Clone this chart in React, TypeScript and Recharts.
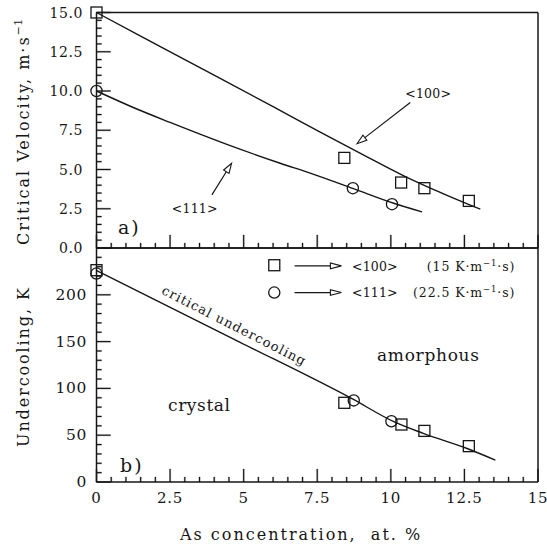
import React from 'react';
import {
  ComposedChart,
  Line,
  Scatter,
  XAxis,
  YAxis,
  ReferenceLine,
  ReferenceDot,
} from 'recharts';

// ---------- data ----------
const xMinorTicks = [0, 0.5, 1, 1.5, 2, 2.5, 3, 3.5, 4, 4.5, 5, 5.5, 6, 6.5, 7, 7.5, 8, 8.5, 9, 9.5, 10, 10.5, 11, 11.5, 12, 12.5, 13, 13.5, 14, 14.5, 15];
const xMajorTicks = [0, 2.5, 5, 7.5, 10, 12.5, 15];
const xTickLabels = ['0', '2.5', '5', '7.5', '10', '12.5', '15'];

const velMinorTicks = [0, 0.5, 1, 1.5, 2, 2.5, 3, 3.5, 4, 4.5, 5, 5.5, 6, 6.5, 7, 7.5, 8, 8.5, 9, 9.5, 10, 10.5, 11, 11.5, 12, 12.5, 13, 13.5, 14, 14.5, 15];
const velMajorTicks = [0, 2.5, 5, 7.5, 10, 12.5, 15];
const velTickLabels = ['0.0', '2.5', '5.0', '7.5', '10.0', '12.5', '15.0'];

const ucMinorTicks = [0, 10, 20, 30, 40, 50, 60, 70, 80, 90, 100, 110, 120, 130, 140, 150, 160, 170, 180, 190, 200, 210, 220, 230, 240];
const ucMajorTicks = [0, 50, 100, 150, 200];
const ucTickLabels = ['0', '50', '100', '150', '200'];

// panel a) critical velocity
const vel100Curve = [
  { x: 0, y: 15.0 }, { x: 3, y: 12.0 }, { x: 6, y: 9.0 }, { x: 7.6, y: 7.38 },
  { x: 9, y: 6.0 }, { x: 10.44, y: 4.6 }, { x: 11.46, y: 3.72 }, { x: 13.04, y: 2.47 },
];
const vel111Curve = [
  { x: 0, y: 10.0 }, { x: 1.25, y: 8.95 }, { x: 2.5, y: 8.0 }, { x: 4.43, y: 6.6 },
  { x: 6.24, y: 5.4 }, { x: 7.26, y: 4.77 }, { x: 8.73, y: 3.78 }, { x: 10.1, y: 2.85 }, { x: 11.06, y: 2.3 },
];
const vel100Points = [
  { x: 0, y: 15.0 }, { x: 8.42, y: 5.74 }, { x: 10.35, y: 4.17 }, { x: 11.14, y: 3.81 }, { x: 12.65, y: 3.0 },
];
const vel111Points = [
  { x: 0, y: 10.0 }, { x: 8.71, y: 3.81 }, { x: 10.04, y: 2.79 },
];

// panel b) undercooling
const ucCurve = [
  { x: 0, y: 226 }, { x: 4.88, y: 149.3 }, { x: 8.68, y: 89 }, { x: 10.1, y: 64.5 },
  { x: 11.1, y: 52 }, { x: 12.59, y: 35.8 }, { x: 13.55, y: 23.4 },
];
const uc100Points = [
  { x: 0, y: 226.3 }, { x: 8.42, y: 84.6 }, { x: 10.36, y: 61.4 }, { x: 11.14, y: 54.6 }, { x: 12.65, y: 38.3 },
];
const uc111Points = [
  { x: 0, y: 222.7 }, { x: 8.74, y: 87.2 }, { x: 10.02, y: 64.9 },
];

// ---------- style ----------
const W = 547;
const H = 546;
const INK = '#161616';
const SERIF = '"DejaVu Serif", serif';

const SquareShape = (p: any) => (
  <rect x={p.cx - 5.5} y={p.cy - 5.5} width={11} height={11} fill="none" stroke={INK} strokeWidth={1.3} />
);
const CircleShape = (p: any) => (
  <circle cx={p.cx} cy={p.cy} r={5.6} fill="none" stroke={INK} strokeWidth={1.3} />
);

function makeXLabel(labels: boolean) {
  return (props: any) => {
    const { x, y, payload } = props;
    const i = xMajorTicks.indexOf(payload.value);
    if (!labels || i < 0) return <g />;
    return (
      <text x={x} y={y + 21} textAnchor="middle" fontFamily={SERIF} fontSize={15} letterSpacing={0.8} fill={INK}>
        {xTickLabels[i]}
      </text>
    );
  };
}

function makeYLabel(majors: number[], labels: string[], fontSize: number, gap: number) {
  return (props: any) => {
    const { x, y, payload } = props;
    const i = majors.indexOf(payload.value);
    if (i < 0) return <g />;
    return (
      <text x={x - gap} y={y + 5} textAnchor="end" fontFamily={SERIF} fontSize={fontSize} letterSpacing={0.6} fill={INK}>
        {labels[i]}
      </text>
    );
  };
}

// inward tick marks drawn as thin filled slivers anchored through the scales
function tickShape(dx: number, dy: number) {
  return (p: any) => {
    const x = Number(p.x1);
    const y = Number(p.y1);
    const hw = 0.55;
    const pts = dx === 0
      ? `${x - hw},${y} ${x + hw},${y} ${x + hw},${y + dy} ${x - hw},${y + dy}`
      : `${x},${y - hw} ${x + dx},${y - hw} ${x + dx},${y + hw} ${x},${y + hw}`;
    return <polygon points={pts} fill={INK} stroke={INK} strokeWidth={0.3} />;
  };
}

function xTickMarks(prefix: string, yBase: number, yNext: number) {
  return xMinorTicks.map((v) => {
    const len = xMajorTicks.includes(v) ? 13 : 5;
    return (
      <ReferenceLine
        key={`${prefix}x${v}`}
        xAxisId="x"
        yAxisId="y"
        segment={[{ x: v, y: yBase }, { x: v + 0.3, y: yNext }]}
        ifOverflow="visible"
        shape={tickShape(0, -len)}
      />
    );
  });
}

function yTickMarks(prefix: string, ticks: number[], majors: number[], step: number) {
  return ticks.map((v) => {
    const len = majors.includes(v) ? 14 : 5;
    return (
      <ReferenceLine
        key={`${prefix}y${v}`}
        xAxisId="x"
        yAxisId="y"
        segment={[{ x: 0, y: v }, { x: 1, y: v + step }]}
        ifOverflow="visible"
        shape={tickShape(len, 0)}
      />
    );
  });
}

function makeArrow(len: number, half: number) {
  return (props: any) => {
    const { x1, y1, x2, y2 } = props;
    const ang = Math.atan2(y2 - y1, x2 - x1);
    const bx = x2 - len * Math.cos(ang);
    const by = y2 - len * Math.sin(ang);
    const px = -Math.sin(ang) * half;
    const py = Math.cos(ang) * half;
    return (
      <g>
        <line x1={x1} y1={y1} x2={bx} y2={by} stroke={INK} strokeWidth={1.2} />
        <polygon
          points={`${x2},${y2} ${bx + px},${by + py} ${bx - px},${by - py}`}
          fill="#fff"
          stroke={INK}
          strokeWidth={1.1}
        />
      </g>
    );
  };
}

function textDot(key: string, x: number, y: number, render: (cx: number, cy: number) => React.ReactElement) {
  return (
    <ReferenceDot
      key={key}
      xAxisId="x"
      yAxisId="y"
      x={x}
      y={y}
      r={1}
      shape={(p: any) => render(p.cx, p.cy)}
    />
  );
}

function frame(yMax: number) {
  return [
    <ReferenceLine key="fl" xAxisId="x" yAxisId="y" x={0} stroke={INK} strokeWidth={1.5} />,
    <ReferenceLine key="fr" xAxisId="x" yAxisId="y" x={15} stroke={INK} strokeWidth={1.5} />,
    <ReferenceLine key="fb" xAxisId="x" yAxisId="y" y={0} stroke={INK} strokeWidth={1.5} />,
    <ReferenceLine key="ft" xAxisId="x" yAxisId="y" y={yMax} stroke={INK} strokeWidth={1.5} />,
  ];
}

const txt = { fontFamily: SERIF, fill: INK } as const;

export default function App() {
  return (
    <div style={{ position: 'absolute', left: 0, top: 0, width: W, height: H, background: '#fff' }}>
      {/* panel a */}
      <div style={{ position: 'absolute', left: 0, top: 0 }}>
        <ComposedChart width={W} height={H} margin={{ top: 12.5, right: 9, bottom: 268, left: 36.5 }}>
          <XAxis
            xAxisId="x" dataKey="x" type="number" domain={[0, 15]} ticks={xMajorTicks} interval={0}
            tickSize={0} tickMargin={0} tickLine={false} axisLine={false} height={30} tick={makeXLabel(false)}
          />
          <YAxis
            yAxisId="y" type="number" domain={[0, 15]} ticks={velMajorTicks} interval={0}
            tickSize={0} tickMargin={0} tickLine={false} axisLine={false} width={60}
            tick={makeYLabel(velMajorTicks, velTickLabels, 14, 13.5)}
          />
          {xTickMarks('a', 0, 1)}
          {yTickMarks('a', velMinorTicks, velMajorTicks, 0.3)}
          {frame(15)}
          <Line xAxisId="x" yAxisId="y" data={vel100Curve} dataKey="y" type="monotone" dot={false} stroke={INK} strokeWidth={1.4} isAnimationActive={false} />
          <Line xAxisId="x" yAxisId="y" data={vel111Curve} dataKey="y" type="monotone" dot={false} stroke={INK} strokeWidth={1.4} isAnimationActive={false} />
          <Scatter xAxisId="x" yAxisId="y" data={vel100Points} dataKey="y" shape={SquareShape} isAnimationActive={false} />
          <Scatter xAxisId="x" yAxisId="y" data={vel111Points} dataKey="y" shape={CircleShape} isAnimationActive={false} />
          <ReferenceLine xAxisId="x" yAxisId="y" segment={[{ x: 3.92, y: 3.38 }, { x: 4.59, y: 5.4 }]} shape={makeArrow(10, 3.2)} />
          <ReferenceLine xAxisId="x" yAxisId="y" segment={[{ x: 10.66, y: 9.27 }, { x: 8.85, y: 6.64 }]} shape={makeArrow(10, 3.2)} />
          {textDot('l111', 2.56, 2.23, (cx, cy) => (
            <text x={cx} y={cy} {...txt} fontSize={12.5} letterSpacing={0.2}>&lt;111&gt;</text>
          ))}
          {textDot('l100', 10.49, 9.57, (cx, cy) => (
            <text x={cx} y={cy} {...txt} fontSize={12.5} letterSpacing={0.2}>&lt;100&gt;</text>
          ))}
          {textDot('la', 0.73, 0.89, (cx, cy) => (
            <text x={cx} y={cy} {...txt} fontSize={19} letterSpacing={2}>a)</text>
          ))}
        </ComposedChart>
      </div>

      {/* panel b */}
      <div style={{ position: 'absolute', left: 0, top: 0 }}>
        <ComposedChart width={W} height={H} margin={{ top: 248, right: 9, bottom: 34, left: 36.5 }}>
          <XAxis
            xAxisId="x" dataKey="x" type="number" domain={[0, 15]} ticks={xMajorTicks} interval={0}
            tickSize={0} tickMargin={0} tickLine={false} axisLine={false} height={30} tick={makeXLabel(true)}
          />
          <YAxis
            yAxisId="y" type="number" domain={[0, 250]} ticks={ucMajorTicks} interval={0}
            tickSize={0} tickMargin={0} tickLine={false} axisLine={false} width={60}
            tick={makeYLabel(ucMajorTicks, ucTickLabels, 15.5, 9.5)}
          />
          {xTickMarks('b', 0, 10)}
          {yTickMarks('b', ucMinorTicks, ucMajorTicks, 5)}
          {frame(250)}
          <Line xAxisId="x" yAxisId="y" data={ucCurve} dataKey="y" type="monotone" dot={false} stroke={INK} strokeWidth={1.4} isAnimationActive={false} />
          <Scatter xAxisId="x" yAxisId="y" data={uc100Points} dataKey="y" shape={SquareShape} isAnimationActive={false} />
          <Scatter xAxisId="x" yAxisId="y" data={uc111Points} dataKey="y" shape={CircleShape} isAnimationActive={false} />

          {/* legend */}
          {textDot('legSq', 6.04, 231.6, (cx, cy) => <SquareShape cx={cx} cy={cy} />)}
          {textDot('legCi', 6.04, 202.4, (cx, cy) => <CircleShape cx={cx} cy={cy} />)}
          <ReferenceLine xAxisId="x" yAxisId="y" segment={[{ x: 6.73, y: 230.9 }, { x: 8.32, y: 230.9 }]} shape={makeArrow(11, 2.8)} />
          <ReferenceLine xAxisId="x" yAxisId="y" segment={[{ x: 6.73, y: 202.4 }, { x: 8.32, y: 202.4 }]} shape={makeArrow(11, 2.8)} />
          {textDot('leg100', 8.68, 225.5, (cx, cy) => (
            <text x={cx} y={cy} {...txt} fontSize={12.5} letterSpacing={0.2}>&lt;100&gt;</text>
          ))}
          {textDot('leg111', 8.68, 197.9, (cx, cy) => (
            <text x={cx} y={cy} {...txt} fontSize={12.5} letterSpacing={0.2}>&lt;111&gt;</text>
          ))}
          {textDot('leg100b', 14.23, 225.5, (cx, cy) => (
            <text x={cx} y={cy} {...txt} fontSize={12.5} letterSpacing={0.9} textAnchor="end">
              (15 K·m<tspan dy={-5} fontSize={8.5}>−1</tspan><tspan dy={5}>·s)</tspan>
            </text>
          ))}
          {textDot('leg111b', 14.23, 197.9, (cx, cy) => (
            <text x={cx} y={cy} {...txt} fontSize={12.5} letterSpacing={0.9} textAnchor="end">
              (22.5 K·m<tspan dy={-5} fontSize={8.5}>−1</tspan><tspan dy={5}>·s)</tspan>
            </text>
          ))}

          {/* region labels */}
          {textDot('crit', 4.68, 167, (cx, cy) => (
            <text transform={`translate(${cx},${cy}) rotate(27)`} x={0} y={4.5} textAnchor="middle" {...txt} fontSize={13} letterSpacing={1.1}>
              critical undercooling
            </text>
          ))}
          {textDot('amor', 9.53, 129, (cx, cy) => (
            <text x={cx} y={cy} {...txt} fontSize={17} letterSpacing={0.7}>amorphous</text>
          ))}
          {textDot('crys', 2.43, 75.5, (cx, cy) => (
            <text x={cx} y={cy} {...txt} fontSize={17} letterSpacing={0.6}>crystal</text>
          ))}
          {textDot('lb', 0.8, 10.6, (cx, cy) => (
            <text x={cx} y={cy} {...txt} fontSize={19} letterSpacing={2}>b)</text>
          ))}
        </ComposedChart>
      </div>

      {/* axis titles */}
      <svg width={W} height={H} style={{ position: 'absolute', left: 0, top: 0, pointerEvents: 'none' }}>
        <text transform="rotate(-90 29 245)" x={29} y={245} {...txt} fontSize={16} letterSpacing={2}>
          Critical Velocity, m·s<tspan dy={-7} fontSize={11} letterSpacing={0.5}>−1</tspan>
        </text>
        <text transform="rotate(-90 29 447)" x={29} y={447} {...txt} fontSize={16} letterSpacing={1.9}>
          Undercooling, K
        </text>
        <text x={180} y={540} {...txt} fontSize={16} letterSpacing={2}>
          {'As concentration,\u00a0\u00a0at. %'}
        </text>
      </svg>
    </div>
  );
}
